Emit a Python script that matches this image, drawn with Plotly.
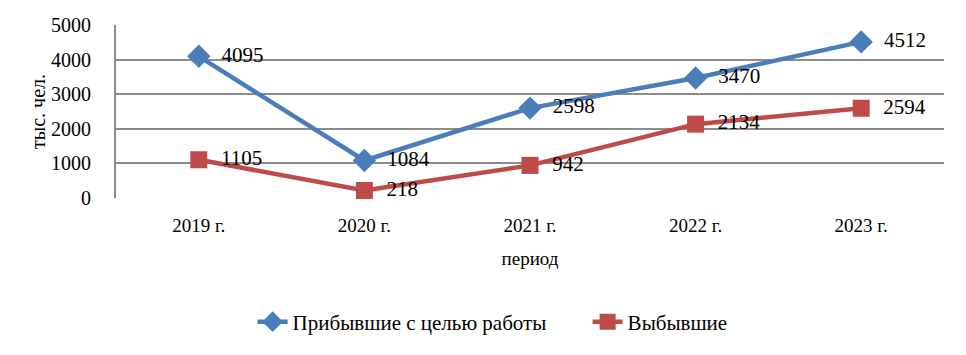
import plotly.graph_objects as go

categories = ["2019 г.", "2020 г.", "2021 г.", "2022 г.", "2023 г."]
arrived_work = [4095, 1084, 2598, 3470, 4512]
departed = [1105, 218, 942, 2134, 2594]
y_ticks = [0, 1000, 2000, 3000, 4000, 5000]

FONT = "Liberation Serif"

fig = go.Figure()
fig.add_trace(go.Scatter(
    x=categories, y=arrived_work, name="Прибывшие с целью работы",
    mode="lines+markers+text", text=["  " + str(v) for v in arrived_work],
    textposition="middle right", textfont=dict(size=21, color="#000000", family=FONT),
    line=dict(color="#4A7EBB", width=4.5),
    marker=dict(symbol="diamond", size=18, color="#4A7EBB"),
    cliponaxis=False,
))
fig.add_trace(go.Scatter(
    x=categories, y=departed, name="Выбывшие",
    mode="lines+markers+text", text=["  " + str(v) for v in departed],
    textposition="middle right", textfont=dict(size=21, color="#000000", family=FONT),
    line=dict(color="#BE4B48", width=4.5),
    marker=dict(symbol="square", size=17, color="#BE4B48"),
    cliponaxis=False,
))

fig.update_layout(
    width=958, height=347,
    margin=dict(l=108, r=22, t=17, b=157, autoexpand=False),
    paper_bgcolor="white", plot_bgcolor="white",
    font=dict(family=FONT, size=19, color="#000000"),
    showlegend=True,
    legend=dict(orientation="h", x=0.165, xanchor="left", y=-0.717, yanchor="middle",
                font=dict(size=21, family=FONT), itemwidth=30, tracegroupgap=0,
                entrywidth=290, entrywidthmode="pixels"),
    xaxis=dict(
        type="category", range=[-0.5, 4.5], showgrid=False, showline=False,
        zeroline=False, ticks="", ticklabelstandoff=14, automargin=False,
        tickfont=dict(size=19, family=FONT),
        title=dict(text="период", font=dict(size=19, family=FONT), standoff=16),
    ),
    yaxis=dict(
        range=[0, 5000], tickvals=y_ticks, showgrid=True, gridcolor="#8C8C8C",
        gridwidth=2, showline=True, linecolor="#8C8C8C", linewidth=2,
        zeroline=False, ticks="", ticklabelstandoff=19, automargin=False,
        tickfont=dict(size=20, family=FONT),
        title=dict(text="тыс. чел.", font=dict(size=20, family=FONT), standoff=0),
    ),
)

fig.write_html("out.html")
